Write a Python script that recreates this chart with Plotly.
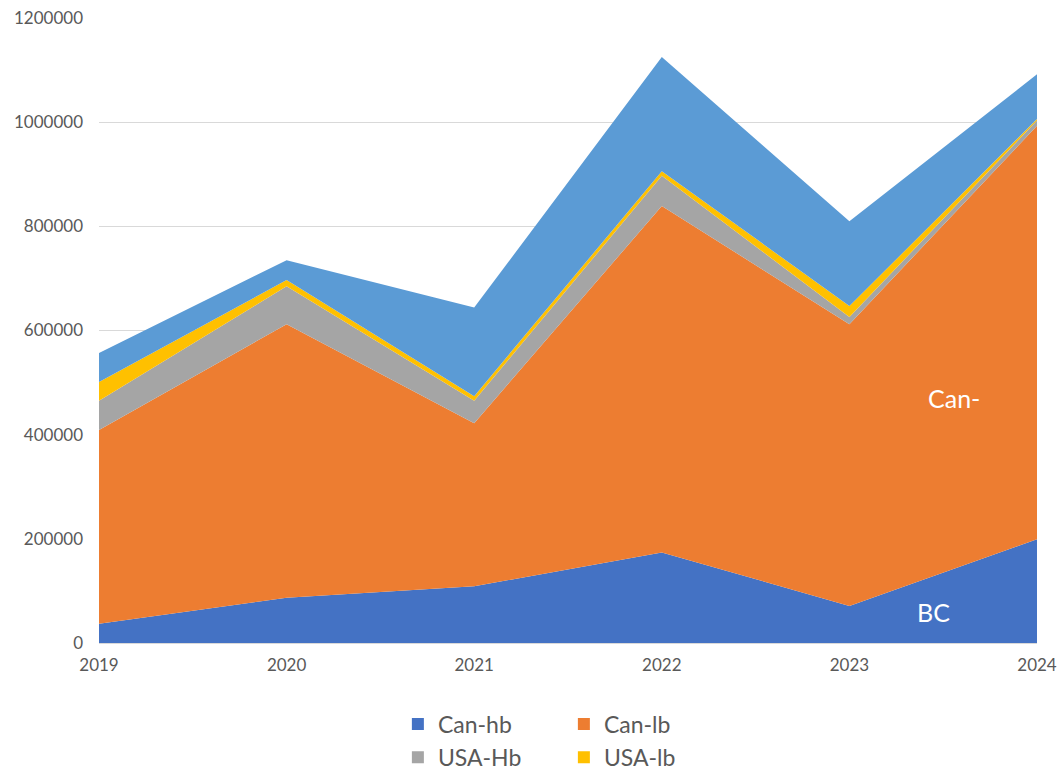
import plotly.graph_objects as go

# ── Data ─────────────────────────────────────────────────────────────────────
years = [2019, 2020, 2021, 2022, 2023, 2024]
can_hb = [37000, 87000, 109000, 174000, 71000, 199000]
can_lb = [372000, 525000, 313000, 665000, 541000, 794000]
usa_hb = [56000, 73000, 43000, 58000, 14000, 10000]
usa_lb = [36000, 12000, 9000, 9000, 21000, 3000]
other = [56000, 38000, 170000, 219000, 163000, 86000]

_TEXT = '#595959'
_GRID = '#D9D9D9'
_FONT = 'Lato, "Open Sans", sans-serif'

series = [
    ('Can-hb', can_hb, '#4472C4', 'legend'),
    ('Can-lb', can_lb, '#ED7D31', 'legend'),
    ('USA-Hb', usa_hb, '#A5A5A5', 'legend2'),
    ('USA-lb', usa_lb, '#FFC000', 'legend2'),
    ('Other', other, '#5B9BD5', None),
]

fig = go.Figure()

for name, vals, color, leg in series:
    fig.add_trace(go.Scatter(
        x=years, y=vals, name=name,
        mode='lines', stackgroup='one',
        line=dict(width=0, color=color),
        fillcolor=color, showlegend=False,
        hoverinfo='x+y+name',
    ))

# square legend swatches (dummy traces)
for name, vals, color, leg in series:
    if leg is None:
        continue
    fig.add_trace(go.Scatter(
        x=[None], y=[None], name=name, mode='markers',
        marker=dict(symbol='square', size=15, color=color),
        legend=leg, showlegend=True,
    ))

fig.add_annotation(x=2023.56, y=470000, text='Can-', showarrow=False,
                   font=dict(color='white', size=25, family=_FONT))
fig.add_annotation(x=2023.45, y=59000, text='BC', showarrow=False,
                   font=dict(color='white', size=25, family=_FONT))

legend_common = dict(
    orientation='h', xanchor='left', yanchor='top',
    xref='container', yref='container', traceorder='normal',
    entrywidth=121, entrywidthmode='pixels',
    font=dict(size=23, color=_TEXT, family=_FONT),
    bgcolor='rgba(0,0,0,0)', itemsizing='constant',
)

fig.update_layout(
    width=1061, height=772,
    margin=dict(l=99, r=24, t=18, b=129),
    paper_bgcolor='white', plot_bgcolor='white',
    font=dict(family=_FONT, color=_TEXT, size=16),
    legend=dict(x=0.375, y=0.090, **legend_common),
    legend2=dict(x=0.375, y=0.047, **legend_common),
    xaxis=dict(
        range=[2019, 2024], tickvals=years, ticktext=[str(y) for y in years],
        showgrid=False, zeroline=False, showline=True, linecolor=_GRID,
        ticks='', ticklabelstandoff=7,
        tickfont=dict(size=17, color=_TEXT), automargin=False,
    ),
    yaxis=dict(
        range=[0, 1200000], dtick=200000, tickformat='d',
        showgrid=True, gridcolor=_GRID, gridwidth=1, zeroline=False,
        showline=False, ticks='', ticklabelstandoff=15,
        tickfont=dict(size=17, color=_TEXT), automargin=False,
    ),
)

# page body has a default 8px margin; drop it so the figure fills the window
fig.write_html('out.html', config={'displayModeBar': False},
               post_script="document.body.style.margin='0';")
